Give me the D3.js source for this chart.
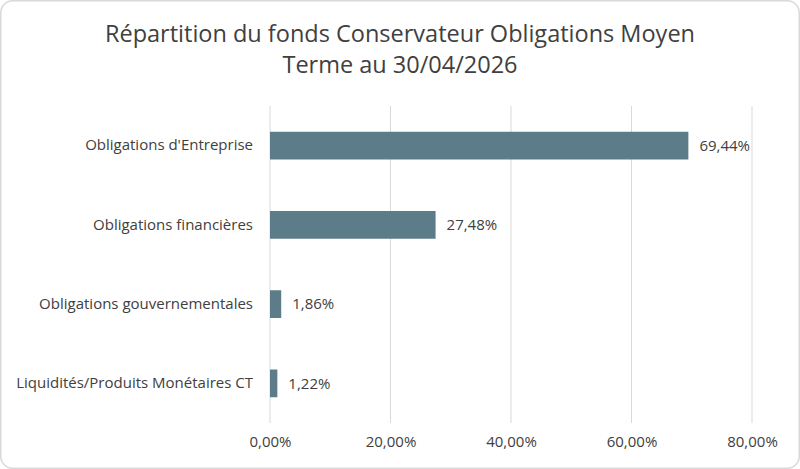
<!DOCTYPE html>
<html>
<head>
<meta charset="utf-8">
<script src="https://cdn.jsdelivr.net/npm/d3@7"></script>
<style>
  html, body { margin: 0; padding: 0; background: #fff; }
  svg { display: block; font-family: "Open Sans", sans-serif; }
</style>
</head>
<body>
<svg id="chart" width="800" height="469"></svg>
<script>
// data
const titleLines = [`Répartition du fonds Conservateur Obligations Moyen`, `Terme au 30/04/2026`]
const categories = [
  `Obligations d'Entreprise`,
  `Obligations financières`,
  `Obligations gouvernementales`,
  `Liquidités/Produits Monétaires CT`,
]
const values = [69.44, 27.48, 1.86, 1.22]
const ticks = [0, 20, 40, 60, 80]

// config
const W = 800, H = 469
const BAR_COLOR = `#5b7c88`
const TEXT_COLOR = `#404040`
const GRID_COLOR = `#d9d9d9`
const LABEL_SIZE = 15
const margin = { left: 270, right: 48, top: 106, bottom: 46 }

const fmt = (v) => v.toFixed(2).replace(`.`, `,`) + `%`

const svg = d3.select(`#chart`)

svg.append(`rect`)
  .attr(`x`, 0.75).attr(`y`, 0.75)
  .attr(`width`, W - 1.5).attr(`height`, H - 1.5)
  .attr(`rx`, 12)
  .attr(`fill`, `#fff`)
  .attr(`stroke`, GRID_COLOR)
  .attr(`stroke-width`, 1.5)

svg.append(`text`)
  .attr(`x`, W / 2)
  .attr(`text-anchor`, `middle`)
  .attr(`fill`, TEXT_COLOR)
  .attr(`font-size`, 23.5)
  .selectAll(`tspan`)
  .data(titleLines)
  .join(`tspan`)
  .attr(`x`, W / 2)
  .attr(`y`, (d, i) => 42 + i * 31)
  .text((d) => d)

const x = d3.scaleLinear()
  .domain([0, 80])
  .range([margin.left, W - margin.right])

const y = d3.scaleBand()
  .domain(categories)
  .range([margin.top, H - margin.bottom])
  .paddingInner(0.65)
  .paddingOuter(0.325)

// gridlines
svg.append(`g`)
  .selectAll(`line`)
  .data(ticks)
  .join(`line`)
  .attr(`x1`, (d) => x(d)).attr(`x2`, (d) => x(d))
  .attr(`y1`, margin.top).attr(`y2`, H - margin.bottom)
  .attr(`stroke`, GRID_COLOR)
  .attr(`stroke-width`, 1)

// x axis
const xAxis = svg.append(`g`)
  .attr(`transform`, `translate(0,${H - margin.bottom})`)
  .call(d3.axisBottom(x).tickValues(ticks).tickFormat(fmt).tickSize(0).tickPadding(13))
xAxis.select(`.domain`).remove()
xAxis.selectAll(`text`)
  .attr(`fill`, TEXT_COLOR)
  .attr(`font-size`, LABEL_SIZE)
  .attr(`font-family`, `"Open Sans", sans-serif`)

// y axis
const yAxis = svg.append(`g`)
  .attr(`transform`, `translate(${margin.left},0)`)
  .call(d3.axisLeft(y).tickSize(0).tickPadding(17))
yAxis.select(`.domain`).remove()
yAxis.selectAll(`text`)
  .attr(`fill`, TEXT_COLOR)
  .attr(`font-size`, LABEL_SIZE)
  .attr(`font-family`, `"Open Sans", sans-serif`)

// bars
svg.append(`g`)
  .selectAll(`rect`)
  .data(values)
  .join(`rect`)
  .attr(`x`, x(0))
  .attr(`y`, (d, i) => y(categories[i]))
  .attr(`width`, (d) => x(d) - x(0))
  .attr(`height`, y.bandwidth())
  .attr(`fill`, BAR_COLOR)

// value labels
svg.append(`g`)
  .selectAll(`text`)
  .data(values)
  .join(`text`)
  .attr(`x`, (d) => x(d) + 11)
  .attr(`y`, (d, i) => y(categories[i]) + y.bandwidth() / 2)
  .attr(`dy`, `0.35em`)
  .attr(`fill`, TEXT_COLOR)
  .attr(`font-size`, LABEL_SIZE)
  .text(fmt)
</script>
</body>
</html>
